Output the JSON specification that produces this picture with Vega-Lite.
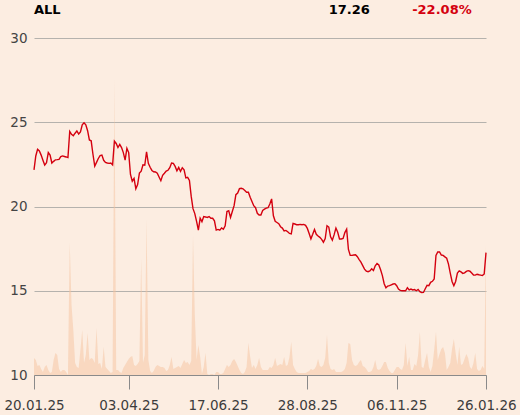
{
"$schema":"https://vega.github.io/schema/vega-lite/v6.json",
"width":452,"height":337,"autosize":"none",
"padding":{"left":34,"top":38,"right":34,"bottom":40},
"background":"#fcede1",
"config":{"view":{"stroke":null},"font":"DejaVu Sans"},
"data":{"values":[
{"d":"20.01.25","p":22.17,"v":17},{"d":"21.01.25","p":23.0,"v":15},{"d":"22.01.25","p":23.4,"v":9},{"d":"23.01.25","p":23.3,"v":10},{"d":"24.01.25","p":23.05,"v":6},
{"d":"27.01.25","p":22.75,"v":3},{"d":"28.01.25","p":22.46,"v":8},{"d":"29.01.25","p":22.6,"v":10},{"d":"30.01.25","p":23.2,"v":5},{"d":"31.01.25","p":23.05,"v":2},
{"d":"03.02.25","p":22.58,"v":3},{"d":"04.02.25","p":22.68,"v":15},{"d":"05.02.25","p":22.77,"v":22},{"d":"06.02.25","p":22.78,"v":20},{"d":"07.02.25","p":22.8,"v":6},
{"d":"10.02.25","p":22.96,"v":3},{"d":"11.02.25","p":23.0,"v":5},{"d":"12.02.25","p":22.97,"v":5},{"d":"13.02.25","p":22.94,"v":3},{"d":"14.02.25","p":22.9,"v":0},
{"d":"17.02.25","p":24.45,"v":132},{"d":"18.02.25","p":24.28,"v":70},{"d":"19.02.25","p":24.2,"v":45},{"d":"20.02.25","p":24.35,"v":12},{"d":"21.02.25","p":24.48,"v":8},
{"d":"24.02.25","p":24.3,"v":7},{"d":"25.02.25","p":24.42,"v":25},{"d":"26.02.25","p":24.85,"v":45},{"d":"27.02.25","p":24.97,"v":12},{"d":"28.02.25","p":24.85,"v":20},
{"d":"03.03.25","p":24.5,"v":42},{"d":"04.03.25","p":23.95,"v":15},{"d":"05.03.25","p":23.9,"v":17},{"d":"06.03.25","p":23.1,"v":16},{"d":"07.03.25","p":22.4,"v":12},
{"d":"10.03.25","p":22.62,"v":47},{"d":"11.03.25","p":22.85,"v":11},{"d":"12.03.25","p":23.02,"v":12},{"d":"13.03.25","p":23.05,"v":6},{"d":"14.03.25","p":22.74,"v":28},
{"d":"17.03.25","p":22.62,"v":8},{"d":"18.03.25","p":22.58,"v":6},{"d":"19.03.25","p":22.56,"v":4},{"d":"20.03.25","p":22.58,"v":2},{"d":"21.03.25","p":22.47,"v":3},
{"d":"24.03.25","p":23.88,"v":295},{"d":"25.03.25","p":23.74,"v":5},{"d":"26.03.25","p":23.5,"v":5},{"d":"27.03.25","p":23.68,"v":3},{"d":"28.03.25","p":23.5,"v":2},
{"d":"31.03.25","p":23.2,"v":7},{"d":"01.04.25","p":22.75,"v":10},{"d":"02.04.25","p":23.45,"v":13},{"d":"03.04.25","p":23.2,"v":16},{"d":"04.04.25","p":21.9,"v":18},
{"d":"07.04.25","p":21.5,"v":19},{"d":"08.04.25","p":21.67,"v":10},{"d":"09.04.25","p":21.05,"v":9},{"d":"10.04.25","p":21.3,"v":11},{"d":"11.04.25","p":21.98,"v":14},
{"d":"14.04.25","p":22.1,"v":116},{"d":"15.04.25","p":22.47,"v":12},{"d":"16.04.25","p":22.45,"v":20},{"d":"17.04.25","p":23.25,"v":155},{"d":"18.04.25","p":22.56,"v":15},
{"d":"21.04.25","p":22.33,"v":4},{"d":"22.04.25","p":22.14,"v":2},{"d":"23.04.25","p":22.06,"v":4},{"d":"24.04.25","p":22.05,"v":8},{"d":"25.04.25","p":21.98,"v":10},
{"d":"28.04.25","p":21.75,"v":9},{"d":"29.04.25","p":21.53,"v":8},{"d":"30.04.25","p":21.85,"v":8},{"d":"02.05.25","p":21.97,"v":7},{"d":"05.05.25","p":22.1,"v":4},
{"d":"06.05.25","p":22.15,"v":5},{"d":"07.05.25","p":22.3,"v":10},{"d":"08.05.25","p":22.58,"v":18},{"d":"12.05.25","p":22.56,"v":6},{"d":"13.05.25","p":22.38,"v":7},
{"d":"14.05.25","p":22.12,"v":8},{"d":"15.05.25","p":22.32,"v":9},{"d":"16.05.25","p":22.08,"v":7},{"d":"19.05.25","p":22.3,"v":11},{"d":"20.05.25","p":22.18,"v":15},
{"d":"21.05.25","p":21.7,"v":12},{"d":"22.05.25","p":21.73,"v":13},{"d":"23.05.25","p":21.55,"v":10},{"d":"26.05.25","p":20.6,"v":14},{"d":"27.05.25","p":19.87,"v":139},
{"d":"28.05.25","p":19.58,"v":60},{"d":"29.05.25","p":19.12,"v":15},{"d":"30.05.25","p":18.6,"v":30},{"d":"02.06.25","p":19.3,"v":18},{"d":"03.06.25","p":19.1,"v":1},
{"d":"04.06.25","p":19.4,"v":8},{"d":"05.06.25","p":19.38,"v":22},{"d":"06.06.25","p":19.35,"v":1},{"d":"09.06.25","p":19.4,"v":0},{"d":"10.06.25","p":19.3,"v":1},
{"d":"11.06.25","p":19.3,"v":1},{"d":"13.06.25","p":19.15,"v":0},{"d":"16.06.25","p":18.6,"v":3},{"d":"17.06.25","p":18.64,"v":3},{"d":"18.06.25","p":18.6,"v":1},
{"d":"19.06.25","p":18.73,"v":1},{"d":"20.06.25","p":18.65,"v":2},{"d":"23.06.25","p":18.85,"v":6},{"d":"24.06.25","p":19.7,"v":10},{"d":"25.06.25","p":19.75,"v":8},
{"d":"26.06.25","p":19.35,"v":10},{"d":"27.06.25","p":19.7,"v":14},{"d":"30.06.25","p":20.05,"v":16},{"d":"01.07.25","p":20.7,"v":13},{"d":"02.07.25","p":20.8,"v":9},
{"d":"03.07.25","p":21.06,"v":5},{"d":"07.07.25","p":21.08,"v":2},{"d":"08.07.25","p":21.05,"v":1},{"d":"09.07.25","p":20.95,"v":3},{"d":"10.07.25","p":20.85,"v":8},
{"d":"11.07.25","p":20.85,"v":32},{"d":"14.07.25","p":20.55,"v":18},{"d":"15.07.25","p":20.3,"v":7},{"d":"16.07.25","p":20.05,"v":10},{"d":"17.07.25","p":19.93,"v":6},
{"d":"18.07.25","p":19.6,"v":10},{"d":"21.07.25","p":19.5,"v":17},{"d":"22.07.25","p":19.5,"v":8},{"d":"23.07.25","p":19.77,"v":5},{"d":"24.07.25","p":19.84,"v":5},
{"d":"25.07.25","p":19.9,"v":5},{"d":"28.07.25","p":19.93,"v":5},{"d":"29.07.25","p":20.15,"v":8},{"d":"30.07.25","p":20.45,"v":7},{"d":"31.07.25","p":19.45,"v":10},
{"d":"01.08.25","p":19.12,"v":17},{"d":"04.08.25","p":19.05,"v":9},{"d":"05.08.25","p":18.98,"v":10},{"d":"06.08.25","p":18.8,"v":11},{"d":"07.08.25","p":18.72,"v":10},
{"d":"08.08.25","p":18.55,"v":18},{"d":"11.08.25","p":18.58,"v":9},{"d":"12.08.25","p":18.5,"v":10},{"d":"13.08.25","p":18.4,"v":18},{"d":"14.08.25","p":18.37,"v":33},
{"d":"18.08.25","p":19.0,"v":10},{"d":"19.08.25","p":18.96,"v":6},{"d":"20.08.25","p":18.92,"v":3},{"d":"21.08.25","p":18.92,"v":2},{"d":"22.08.25","p":18.94,"v":2},
{"d":"25.08.25","p":18.92,"v":2},{"d":"26.08.25","p":18.94,"v":2},{"d":"27.08.25","p":18.88,"v":2},{"d":"28.08.25","p":18.7,"v":3},{"d":"29.08.25","p":18.4,"v":4},
{"d":"01.09.25","p":18.08,"v":6},{"d":"02.09.25","p":18.35,"v":5},{"d":"03.09.25","p":18.64,"v":6},{"d":"04.09.25","p":18.35,"v":9},{"d":"05.09.25","p":18.25,"v":16},
{"d":"08.09.25","p":18.17,"v":9},{"d":"09.09.25","p":18.05,"v":8},{"d":"10.09.25","p":17.88,"v":10},{"d":"11.09.25","p":18.1,"v":17},{"d":"12.09.25","p":18.86,"v":40},
{"d":"15.09.25","p":18.78,"v":12},{"d":"16.09.25","p":18.2,"v":6},{"d":"17.09.25","p":18.0,"v":5},{"d":"18.09.25","p":18.33,"v":6},{"d":"19.09.25","p":18.72,"v":3},
{"d":"22.09.25","p":18.47,"v":3},{"d":"23.09.25","p":18.07,"v":3},{"d":"24.09.25","p":18.07,"v":3},{"d":"25.09.25","p":18.1,"v":4},{"d":"26.09.25","p":18.45,"v":6},
{"d":"29.09.25","p":18.65,"v":12},{"d":"30.09.25","p":17.45,"v":32},{"d":"01.10.25","p":17.1,"v":31},{"d":"02.10.25","p":17.1,"v":15},{"d":"03.10.25","p":17.12,"v":10},
{"d":"06.10.25","p":17.14,"v":9},{"d":"07.10.25","p":17.02,"v":10},{"d":"08.10.25","p":16.85,"v":13},{"d":"09.10.25","p":16.7,"v":15},{"d":"10.10.25","p":16.49,"v":9},
{"d":"13.10.25","p":16.28,"v":8},{"d":"14.10.25","p":16.17,"v":6},{"d":"15.10.25","p":16.13,"v":3},{"d":"16.10.25","p":16.18,"v":3},{"d":"17.10.25","p":16.3,"v":4},
{"d":"20.10.25","p":16.2,"v":8},{"d":"21.10.25","p":16.48,"v":15},{"d":"22.10.25","p":16.62,"v":6},{"d":"23.10.25","p":16.53,"v":5},{"d":"24.10.25","p":16.25,"v":6},
{"d":"27.10.25","p":15.9,"v":9},{"d":"28.10.25","p":15.42,"v":13},{"d":"29.10.25","p":15.18,"v":13},{"d":"30.10.25","p":15.28,"v":7},{"d":"31.10.25","p":15.3,"v":4},
{"d":"03.11.25","p":15.35,"v":2},{"d":"04.11.25","p":15.4,"v":2},{"d":"05.11.25","p":15.42,"v":5},{"d":"06.11.25","p":15.3,"v":8},{"d":"07.11.25","p":15.1,"v":8},
{"d":"10.11.25","p":15.02,"v":6},{"d":"11.11.25","p":15.0,"v":5},{"d":"12.11.25","p":15.0,"v":10},{"d":"13.11.25","p":15.0,"v":32},{"d":"14.11.25","p":15.18,"v":9},
{"d":"17.11.25","p":15.05,"v":18},{"d":"18.11.25","p":15.1,"v":5},{"d":"19.11.25","p":15.05,"v":5},{"d":"20.11.25","p":15.07,"v":11},{"d":"21.11.25","p":15.0,"v":9},
{"d":"24.11.25","p":15.08,"v":20},{"d":"25.11.25","p":14.95,"v":43},{"d":"26.11.25","p":14.89,"v":8},{"d":"27.11.25","p":14.9,"v":7},{"d":"28.11.25","p":15.12,"v":15},
{"d":"01.12.25","p":15.32,"v":22},{"d":"02.12.25","p":15.3,"v":8},{"d":"03.12.25","p":15.5,"v":3},{"d":"04.12.25","p":15.56,"v":9},{"d":"05.12.25","p":15.7,"v":25},
{"d":"08.12.25","p":17.1,"v":43},{"d":"09.12.25","p":17.3,"v":15},{"d":"10.12.25","p":17.3,"v":21},{"d":"11.12.25","p":17.12,"v":26},{"d":"12.12.25","p":17.1,"v":28},
{"d":"15.12.25","p":17.01,"v":22},{"d":"16.12.25","p":16.93,"v":5},{"d":"17.12.25","p":16.58,"v":8},{"d":"18.12.25","p":16.05,"v":12},{"d":"19.12.25","p":15.55,"v":26},
{"d":"22.12.25","p":15.3,"v":36},{"d":"23.12.25","p":15.55,"v":22},{"d":"24.12.25","p":16.05,"v":10},{"d":"25.12.25","p":16.18,"v":28},{"d":"26.12.25","p":16.12,"v":10},
{"d":"29.12.25","p":16.03,"v":11},{"d":"30.12.25","p":16.06,"v":16},{"d":"31.12.25","p":16.15,"v":21},{"d":"12.01.26","p":16.19,"v":17},{"d":"13.01.26","p":16.16,"v":8},
{"d":"14.01.26","p":16.05,"v":6},{"d":"15.01.26","p":15.93,"v":12},{"d":"16.01.26","p":15.93,"v":22},{"d":"19.01.26","p":15.98,"v":6},{"d":"20.01.26","p":15.95,"v":4},
{"d":"21.01.26","p":15.93,"v":5},{"d":"22.01.26","p":15.9,"v":9},{"d":"23.01.26","p":16.0,"v":6},{"d":"26.01.26","p":17.26,"v":130}
]},
"encoding":{
 "x":{"field":"d","type":"ordinal","sort":null,"scale":{"type":"point","padding":0},
  "axis":{"values":["20.01.25","03.04.25","17.06.25","28.08.25","06.11.25","26.01.26"],"labelAngle":0,"title":null,"grid":false,
   "domainColor":"#8a8a8a","tickColor":"#8a8a8a","tickSize":14,"labelFontSize":13.5,"labelColor":"#3c3c3c","labelPadding":9,
   "labelOverlap":false,"labelFlush":false,"labelBound":false}}
},
"layer":[
 {"mark":{"type":"area","color":"#f5c4a0","opacity":0.5,"interpolate":"linear"},
  "encoding":{"y":{"field":"v","type":"quantitative","scale":{"domain":[0,337],"nice":false},"axis":null}}},
 {"mark":{"type":"line","color":"#d4000f","strokeWidth":1.4},
  "encoding":{"y":{"field":"p","type":"quantitative","scale":{"domain":[10,30],"nice":false,"zero":false},
   "axis":{"values":[10,15,20,25,30],"title":null,"grid":true,"gridColor":"#b5b2ad","domain":false,"ticks":false,
    "labelPadding":7,"labelFontSize":13.5,"labelColor":"#444444"}}}},
 {"transform":[{"filter":"datum.d === '20.01.25'"}],
  "mark":{"type":"text","align":"left","baseline":"middle","fontSize":13,"fontWeight":"bold","color":"#000000"},
  "encoding":{"y":{"datum":31.66,"type":"quantitative","scale":{"domain":[10,30],"nice":false,"zero":false},"axis":null},"text":{"value":"ALL"}}},
 {"transform":[{"filter":"datum.d === '16.10.25'"}],
  "mark":{"type":"text","align":"right","baseline":"middle","fontSize":13,"fontWeight":"bold","color":"#000000"},
  "encoding":{"y":{"datum":31.66,"type":"quantitative","scale":{"domain":[10,30],"nice":false,"zero":false},"axis":null},"text":{"value":"17.26"}}},
 {"transform":[{"filter":"datum.d === '14.01.26'"}],
  "mark":{"type":"text","align":"right","baseline":"middle","fontSize":13,"fontWeight":"bold","color":"#d4000f"},
  "encoding":{"y":{"datum":31.66,"type":"quantitative","scale":{"domain":[10,30],"nice":false,"zero":false},"axis":null},"text":{"value":"-22.08%"}}}
],
"resolve":{"scale":{"y":"independent"}}
}
